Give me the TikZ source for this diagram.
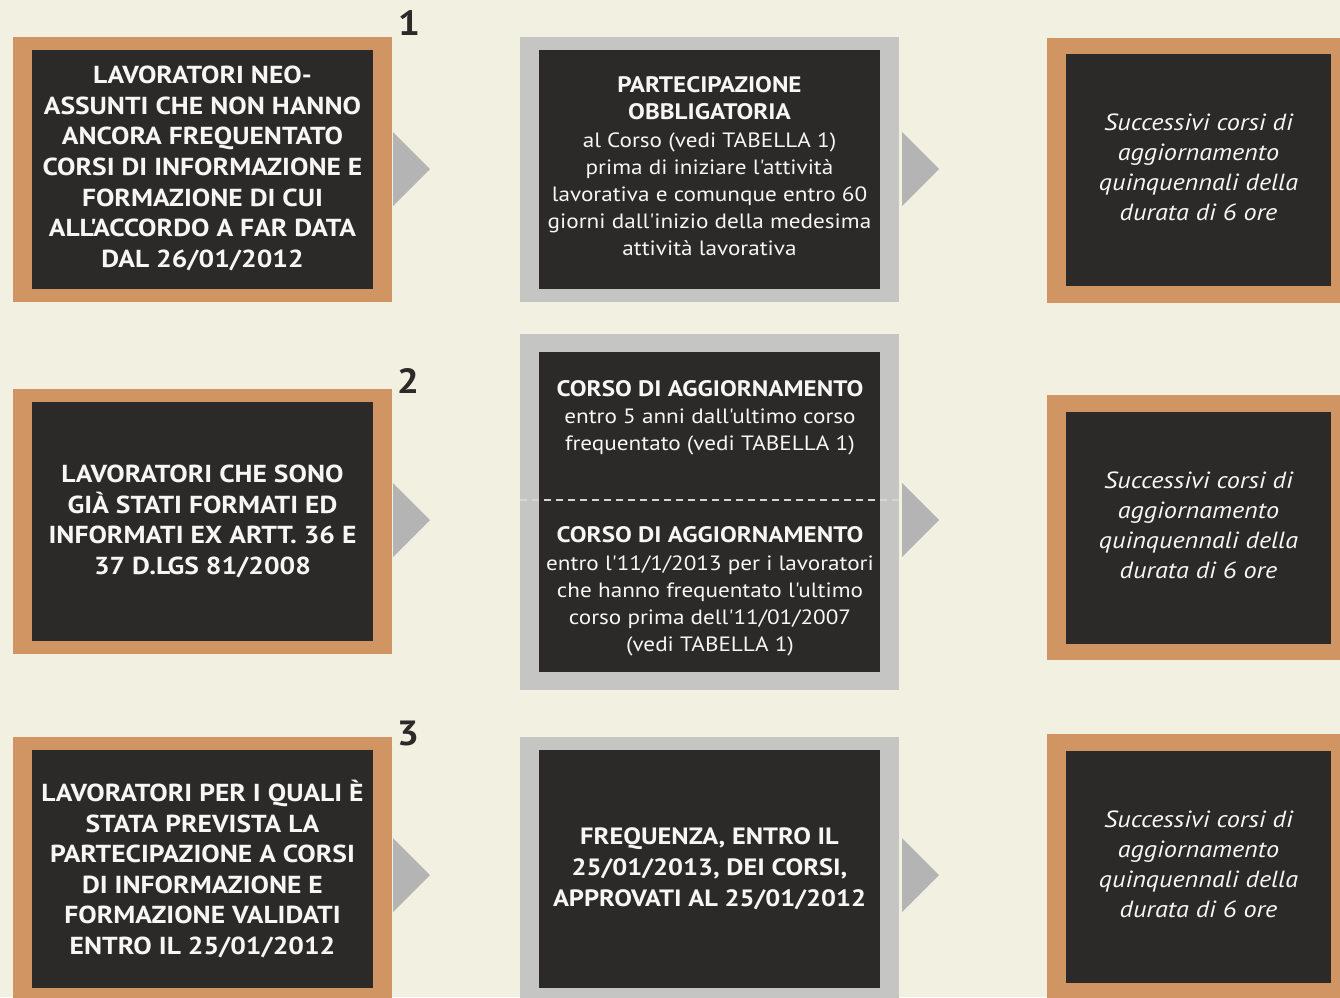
\documentclass[tikz,border=0pt]{standalone}
\usepackage{fontspec}
\setmainfont{PT Sans}[Ligatures=TeXOff, FakeStretch=1.12]
\usetikzlibrary{calc}
\definecolor{bgc}{RGB}{242,241,225}
\definecolor{orangec}{RGB}{209,149,99}
\definecolor{greyc}{RGB}{197,198,196}
\definecolor{darkc}{RGB}{43,42,41}
\definecolor{arrowc}{RGB}{179,180,179}
\definecolor{textc}{RGB}{246,246,242}
\definecolor{dashc}{RGB}{215,215,210}
\newcommand{\hb}[1]{{\bfseries\fontsize{22.4}{27.2}\selectfont #1}}
\tikzset{
  frame/.style={anchor=north west, inner sep=0pt, outer sep=0pt, draw=none},
  obox/.style={frame, fill=orangec},
  gbox/.style={frame, fill=greyc},
  ibox/.style={frame, fill=darkc},
  lefttxt/.style={text=textc, align=center, inner sep=0pt, font=\bfseries\fontsize{24.6}{30.6}\selectfont},
  midtxt/.style={text=textc, align=center, inner sep=0pt, font=\fontsize{20.7}{27.2}\selectfont},
  midbold/.style={text=textc, align=center, inner sep=0pt, font=\bfseries\fontsize{23.6}{31}\selectfont},
  righttxt/.style={text=textc, align=center, inner sep=0pt, font=\itshape\fontsize{23.4}{30}\selectfont},
  numtxt/.style={text=darkc, inner sep=0pt, font=\bfseries\fontsize{35}{35}\selectfont},
  tri/.style={fill=arrowc, draw=none},
  sep/.style={draw=dashc, line width=1.5pt, dash pattern=on 7pt off 5pt}
}
\begin{document}
\begin{tikzpicture}[x=1pt,y=-1pt]
\useasboundingbox (0,0) rectangle (1340,997);
\clip (0,0) rectangle (1340,997);
\fill[bgc] (0,0) rectangle (1340,997);

% ---------- Row 1 ----------
\node[obox, minimum width=379pt, minimum height=265pt] (L1o) at (13,37) {};
\node[ibox, minimum width=341pt, minimum height=239pt] (L1) at (32,50) {};
\node[lefttxt] (L1t) at ($(L1.center)+(0,-1)$) {LAVORATORI NEO-\\ASSUNTI CHE NON HANNO\\ANCORA FREQUENTATO\\CORSI DI INFORMAZIONE E\\FORMAZIONE DI CUI\\ALL'ACCORDO A FAR DATA\\DAL 26/01/2012};
\node[numtxt] (N1) at (409,23) {1};

\node[gbox, minimum width=379pt, minimum height=265pt] (M1o) at (520,37) {};
\node[ibox, minimum width=341pt, minimum height=239pt] (M1) at (539,50) {};
\node[midtxt] (M1t) at ($(M1.center)+(0,-3)$) {\hb{PARTECIPAZIONE}\\\hb{OBBLIGATORIA}\\al Corso (vedi TABELLA 1)\\prima di iniziare l'attività\\lavorativa e comunque entro 60\\giorni dall'inizio della medesima\\attività lavorativa};

\node[obox, minimum width=300pt, minimum height=265pt] (R1o) at (1047,38) {};
\node[ibox, minimum width=265pt, minimum height=232pt] (R1) at (1066,54) {};
\node[righttxt] (R1t) at ($(R1.center)+(0,-3)$) {Successivi corsi di\\aggiornamento\\quinquennali della\\durata di 6 ore};

\fill[tri] ($(L1o.north east)+(1,95)$) -- ($(L1o.north east)+(1,169)$) -- ($(L1o.north east)+(38,132)$) -- cycle;
\fill[tri] ($(M1o.north east)+(3,95)$) -- ($(M1o.north east)+(3,169)$) -- ($(M1o.north east)+(40,132)$) -- cycle;

% ---------- Row 2 ----------
\node[obox, minimum width=379pt, minimum height=265pt] (L2o) at (13,389) {};
\node[ibox, minimum width=341pt, minimum height=239pt] (L2) at (32,402) {};
\node[lefttxt] (L2t) at ($(L2.center)+(0,0)$) {LAVORATORI CHE SONO\\GIÀ STATI FORMATI ED\\INFORMATI EX ARTT. 36 E\\37 D.LGS 81/2008};
\node[numtxt] (N2) at (408,381) {2};

\node[gbox, minimum width=379pt, minimum height=356pt] (M2o) at (520,334) {};
\node[ibox, minimum width=341pt, minimum height=320pt] (M2) at (539,352) {};
\coordinate (D1) at (520,500);
\coordinate (D2) at (899,500);
\draw[sep] (D1) -- (D2);
\node[midtxt] (M2a) at (710,418) {\hb{CORSO DI AGGIORNAMENTO}\\entro 5 anni dall'ultimo corso\\frequentato (vedi TABELLA 1)};
\node[midtxt] (M2b) at (710,591.5) {\hb{CORSO DI AGGIORNAMENTO}\\entro l'11/1/2013 per i lavoratori\\che hanno frequentato l'ultimo\\corso prima dell'11/01/2007\\(vedi TABELLA 1)};

\node[obox, minimum width=300pt, minimum height=265pt] (R2o) at (1047,395) {};
\node[ibox, minimum width=265pt, minimum height=232pt] (R2) at (1066,412) {};
\node[righttxt] (R2t) at ($(R2.center)+(0,-3)$) {Successivi corsi di\\aggiornamento\\quinquennali della\\durata di 6 ore};

\fill[tri] (393,483) -- (393,557) -- (430,520) -- cycle;
\fill[tri] (902,483) -- (902,557) -- (939,520) -- cycle;

% ---------- Row 3 ----------
\node[obox, minimum width=379pt, minimum height=270pt] (L3o) at (13,737) {};
\node[ibox, minimum width=341pt, minimum height=238pt] (L3) at (32,750) {};
\node[lefttxt] (L3t) at ($(L3.center)+(0,0)$) {LAVORATORI PER I QUALI È\\STATA PREVISTA LA\\PARTECIPAZIONE A CORSI\\DI INFORMAZIONE E\\FORMAZIONE VALIDATI\\ENTRO IL 25/01/2012};
\node[numtxt] (N3) at (408,733) {3};

\node[gbox, minimum width=379pt, minimum height=270pt] (M3o) at (520,737) {};
\node[ibox, minimum width=341pt, minimum height=238pt] (M3) at (539,750) {};
\node[midbold] (M3t) at ($(M3.center)+(0,0)$) {FREQUENZA, ENTRO IL\\25/01/2013, DEI CORSI,\\APPROVATI AL 25/01/2012};

\node[obox, minimum width=300pt, minimum height=270pt] (R3o) at (1047,734) {};
\node[ibox, minimum width=265pt, minimum height=232pt] (R3) at (1066,751) {};
\node[righttxt] (R3t) at ($(R3.center)+(0,-3)$) {Successivi corsi di\\aggiornamento\\quinquennali della\\durata di 6 ore};

\fill[tri] (393,838) -- (393,912) -- (430,875) -- cycle;
\fill[tri] (902,838) -- (902,912) -- (939,875) -- cycle;
\end{tikzpicture}
\end{document}
